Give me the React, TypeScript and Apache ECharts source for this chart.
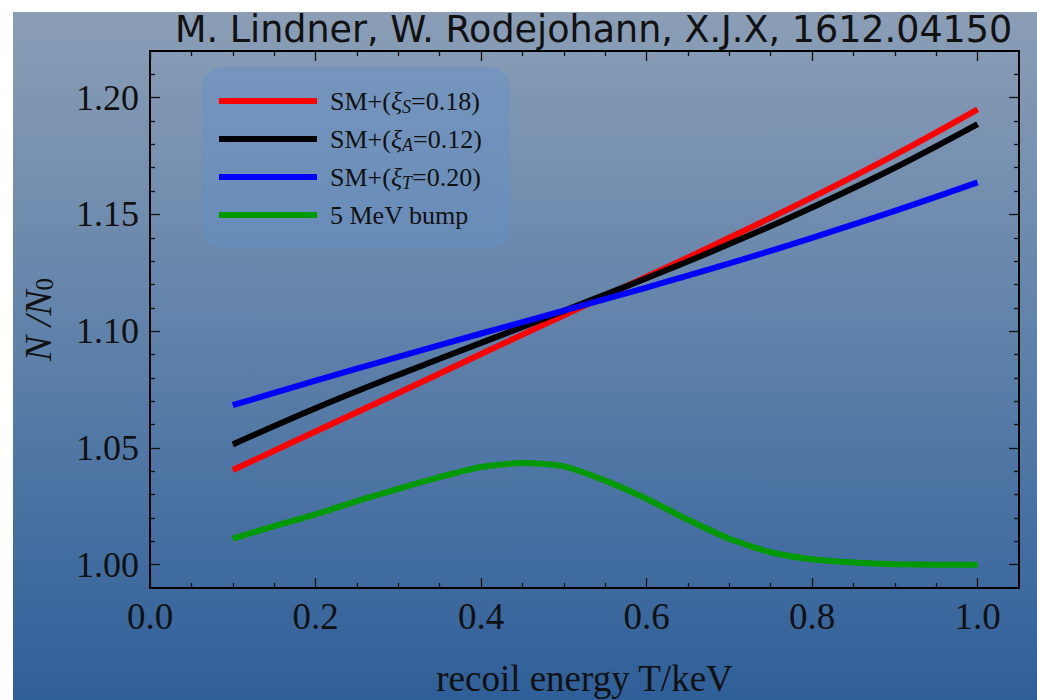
import React, { useEffect, useRef } from "react";
import * as echarts from "echarts";

const xCoarse = [0.1, 0.2, 0.3, 0.4, 0.5, 0.6, 0.7, 0.8, 0.9, 1.0];
const redValues = [1.0405, 1.057, 1.0735, 1.0902, 1.1068, 1.1233, 1.14, 1.1573, 1.1755, 1.195];
const blackValues = [1.0515, 1.067, 1.0813, 1.095, 1.1087, 1.1227, 1.1373, 1.153, 1.17, 1.1887];
const blueValues = [1.0683, 1.0788, 1.089, 1.099, 1.1088, 1.1187, 1.129, 1.14, 1.1515, 1.1637];

const xFine = [0.1, 0.15, 0.2, 0.25, 0.3, 0.35, 0.4, 0.45, 0.5, 0.55, 0.6, 0.65, 0.7, 0.75, 0.8, 0.85, 0.9, 0.95, 1.0];
const greenValues = [1.0111, 1.0165, 1.0215, 1.0272, 1.0325, 1.0375, 1.0418, 1.0435, 1.0421, 1.036, 1.0282, 1.0192, 1.0111, 1.0053, 1.0023, 1.0009, 1.0002, 1.0, 1.0];

const seriesNames = ["SM+(ξS=0.18)", "SM+(ξA=0.12)", "SM+(ξT=0.20)", "5 MeV bump"];
const legendLabels = [
  "{g|}SM+({it|ξ}{sub|S}=0.18)",
  "{g|}SM+({it|ξ}{sub|A}=0.12)",
  "{g|}SM+({it|ξ}{sub|T}=0.20)",
  "{g|}5 MeV bump",
];

const xMajorTicks = [0, 0.2, 0.4, 0.6, 0.8, 1.0];
const xMinorTicks = [0.05, 0.1, 0.15, 0.25, 0.3, 0.35, 0.45, 0.5, 0.55, 0.65, 0.7, 0.75, 0.85, 0.9, 0.95];
const yMajorTicks = [1.0, 1.05, 1.1, 1.15, 1.2];
const yMinorTicks = [1.01, 1.02, 1.03, 1.04, 1.06, 1.07, 1.08, 1.09, 1.11, 1.12, 1.13, 1.14, 1.16, 1.17, 1.18, 1.19, 1.21];

const titleText = "M. Lindner, W. Rodejohann, X.J.X, 1612.04150";
const xName = "recoil energy T/keV";

const serif = "'Liberation Serif', 'Times New Roman', serif";

function pairs(xs: number[], ys: number[]) {
  return xs.map((x, i) => [x, ys[i]]);
}

function xAxisDef(position: string, major: boolean, extra: any = {}) {
  return {
    type: "value",
    position,
    min: 0,
    max: 1.05,
    splitLine: { show: false },
    axisLine: { show: major, onZero: false, lineStyle: { color: "#000", width: 2 } },
    axisTick: {
      show: true,
      inside: true,
      length: major ? 10 : 5,
      customValues: major ? xMajorTicks : xMinorTicks,
      lineStyle: { color: "#111", width: 1.3 },
    },
    axisLabel: { show: false },
    ...extra,
  };
}

function yAxisDef(position: string, major: boolean, extra: any = {}) {
  return {
    type: "value",
    position,
    min: 0.99,
    max: 1.22,
    splitLine: { show: false },
    axisLine: { show: major, onZero: false, lineStyle: { color: "#000", width: 2 } },
    axisTick: {
      show: true,
      inside: true,
      length: major ? 10 : 5,
      customValues: major ? yMajorTicks : yMinorTicks,
      lineStyle: { color: "#111", width: 1.3 },
    },
    axisLabel: { show: false },
    ...extra,
  };
}

export default function App() {
  const ref = useRef<HTMLDivElement>(null);
  useEffect(() => {
    document.body.style.margin = "0";
    const chart = echarts.init(ref.current!, null, { renderer: "svg" });
    const colors = ["#ff0000", "#000000", "#0000ff", "#009a00"];
    const datas = [
      pairs(xCoarse, redValues),
      pairs(xCoarse, blackValues),
      pairs(xCoarse, blueValues),
      pairs(xFine, greenValues),
    ];
    chart.setOption({
      animation: false,
      backgroundColor: "transparent",
      title: {
        text: titleText,
        left: 175,
        top: 11,
        padding: 0,
        textStyle: { fontFamily: "'DejaVu Sans', sans-serif", fontSize: 36.5, fontWeight: "normal", color: "#111" },
      },
      grid: { left: 150, right: 18, top: 51, bottom: 112, containLabel: false, outerBoundsMode: "none" },
      legend: {
        orient: "vertical",
        left: 202,
        top: 67,
        padding: [19, 28, 18, 17],
        itemGap: 8,
        itemWidth: 98,
        itemHeight: 6,
        icon: "rect",
        backgroundColor: "rgba(100,145,200,0.45)",
        borderRadius: 20,
        data: seriesNames,
        formatter: (name: string) => legendLabels[seriesNames.indexOf(name)],
        textStyle: {
          fontFamily: serif,
          fontSize: 26,
          color: "#111",
          lineHeight: 30,
          rich: {
            g: { width: 8 },
            it: { fontStyle: "italic", fontFamily: serif, fontSize: 26 },
            sub: { fontStyle: "italic", fontFamily: serif, fontSize: 18, lineHeight: 12, verticalAlign: "bottom" },
          },
        },
      },
      xAxis: [
        xAxisDef("bottom", true, {
          axisLabel: {
            show: true,
            customValues: xMajorTicks,
            formatter: (v: number) => v.toFixed(1),
            fontFamily: serif,
            fontSize: 37,
            color: "#111",
            margin: 10,
          },
          name: xName,
          nameLocation: "middle",
          nameGap: 72,
          nameTextStyle: { fontFamily: serif, fontSize: 37, color: "#111" },
        }),
        xAxisDef("bottom", false),
        xAxisDef("top", true),
        xAxisDef("top", false),
      ],
      yAxis: [
        yAxisDef("left", true, {
          axisLabel: {
            show: true,
            customValues: yMajorTicks,
            formatter: (v: number) => v.toFixed(2),
            fontFamily: serif,
            fontSize: 36,
            color: "#111",
            margin: 11,
          },
          name: "{n|N} {n|/N}{s|0}",
          nameLocation: "middle",
          nameGap: 93,
          nameRotate: 90,
          nameTextStyle: {
            fontFamily: serif,
            fontSize: 38,
            color: "#111",
            rich: {
              n: { fontFamily: serif, fontSize: 38, fontStyle: "italic", color: "#111" },
              s: { fontFamily: serif, fontSize: 25, color: "#111", lineHeight: 14, verticalAlign: "bottom" },
            },
          },
        }),
        yAxisDef("left", false),
        yAxisDef("right", true),
        yAxisDef("right", false),
      ],
      series: seriesNames.map((name, i) => ({
        name,
        type: "line",
        xAxisIndex: 0,
        yAxisIndex: 0,
        data: datas[i],
        showSymbol: false,
        symbol: "none",
        smooth: i === 3 ? 0.2 : 0.4,
        color: colors[i],
        lineStyle: { color: colors[i], width: 6, cap: "butt" },
      })),
    });
    return () => chart.dispose();
  }, []);
  return (
    <div style={{ position: "relative", width: 1037, height: 700, background: "#fff", overflow: "hidden" }}>
      <div
        style={{
          position: "absolute",
          left: 13,
          top: 12,
          width: 1024,
          height: 688,
          background: "linear-gradient(to bottom, #8b9eb6 0%, #5d80a9 50%, #2f5f99 100%)",
        }}
      />
      <div ref={ref} style={{ position: "absolute", left: 0, top: 0, width: 1037, height: 700 }} />
    </div>
  );
}
